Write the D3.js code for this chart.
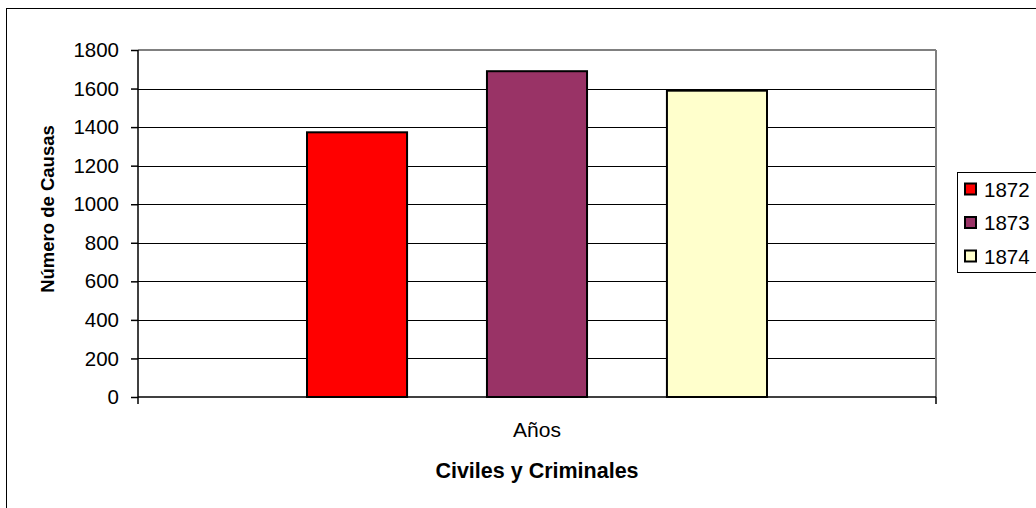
<!DOCTYPE html>
<html><head><meta charset="utf-8">
<script src="https://cdn.jsdelivr.net/npm/d3@7"></script>
<style>
body{margin:0;background:#fff;}
svg{display:block;font-family:"Liberation Sans",Arial,sans-serif;}
</style></head>
<body><svg id="c" width="1036" height="508"></svg>
<script>
const categories = ["Años"];
const seriesNames = ["1872","1873","1874"];
const values = [1373, 1690, 1589];
const colors = ["#FF0000","#993366","#FFFFCC"];
const yTicks = [0,200,400,600,800,1000,1200,1400,1600,1800];

const svg = d3.select("#c");
const L = 138, R = 936, T = 50, B = 397;
const fs = 20.5;

// outer border
svg.append("rect").attr("x",6.5).attr("y",8.5).attr("width",1100).attr("height",600)
  .attr("fill","none").attr("stroke","#000").attr("stroke-width",1);

const y = d3.scaleLinear().domain([0,1800]).range([B,T]);
const x0 = d3.scaleBand().domain(categories).range([L,R]);
const x1 = d3.scaleBand().domain(seriesNames).range([x0("Años")+169, x0("Años")+x0.bandwidth()-169]).paddingInner(0.444);

// gridlines
svg.append("g").selectAll("line").data(yTicks.filter(d=>d>0 && d<1800)).join("line")
  .attr("x1",L).attr("x2",R).attr("y1",d=>Math.round(y(d))+0.5).attr("y2",d=>Math.round(y(d))+0.5)
  .attr("stroke","#000").attr("stroke-width",1);
// top & right border gray
svg.append("line").attr("x1",L).attr("x2",R).attr("y1",y(1800)).attr("y2",y(1800)).attr("stroke","#808080").attr("stroke-width",2);
svg.append("line").attr("x1",R).attr("x2",R).attr("y1",T).attr("y2",B).attr("stroke","#808080").attr("stroke-width",2);

// bars
svg.append("g").selectAll("rect").data(values).join("rect")
  .attr("x",(d,i)=>x1(seriesNames[i]))
  .attr("y",d=>y(d))
  .attr("width",x1.bandwidth())
  .attr("height",d=>B-y(d))
  .attr("fill",(d,i)=>colors[i])
  .attr("stroke","#000").attr("stroke-width",2);

// y axis
const yAxis = d3.axisLeft(y).tickValues(yTicks).tickSize(7).tickPadding(12).tickFormat(d3.format("d"));
const gy = svg.append("g").attr("transform",`translate(${L},0)`).call(yAxis);
gy.select(".domain").remove();
gy.selectAll(".tick line").attr("stroke","#000").attr("stroke-width",1.5);
gy.selectAll(".tick text").attr("font-size",fs).attr("fill","#000").attr("font-family","Liberation Sans, Arial, sans-serif");
svg.append("line").attr("x1",L).attr("x2",L).attr("y1",T).attr("y2",B+7).attr("stroke","#000").attr("stroke-width",1.5);

// x axis
const xAxis = d3.axisBottom(x0).tickSize(0).tickPadding(0);
const gx = svg.append("g").attr("transform",`translate(0,${B})`).call(xAxis);
gx.select(".domain").remove();
gx.selectAll(".tick text").attr("font-size",21).attr("fill","#000").attr("dy",null).attr("y",40)
  .attr("font-family","Liberation Sans, Arial, sans-serif");
svg.append("line").attr("x1",L).attr("x2",R).attr("y1",B).attr("y2",B).attr("stroke","#000").attr("stroke-width",1.5);
svg.append("line").attr("x1",R).attr("x2",R).attr("y1",B).attr("y2",B+7).attr("stroke","#000").attr("stroke-width",1.5);

// titles
svg.append("text").attr("x",(L+R)/2).attr("y",478).attr("text-anchor","middle")
  .attr("font-size",21.5).attr("font-weight","bold").text("Civiles y Criminales");
svg.append("text").attr("transform",`translate(54,209) rotate(-90)`).attr("text-anchor","middle")
  .attr("font-size",18.5).attr("font-weight","bold").text("Número de Causas");

// legend
const lg = svg.append("g");
lg.append("rect").attr("x",957.5).attr("y",172.5).attr("width",120).attr("height",100)
  .attr("fill","#fff").attr("stroke","#000").attr("stroke-width",1);
const items = lg.selectAll("g.it").data(seriesNames).join("g").attr("class","it")
  .attr("transform",(d,i)=>`translate(0,${189+i*33.5})`);
items.append("rect").attr("x",965).attr("y",-5.5).attr("width",11).attr("height",11)
  .attr("fill",(d,i)=>colors[i]).attr("stroke","#000").attr("stroke-width",2);
items.append("text").attr("x",984).attr("y",7.5).attr("font-size",fs).text(d=>d);
</script></body></html>
